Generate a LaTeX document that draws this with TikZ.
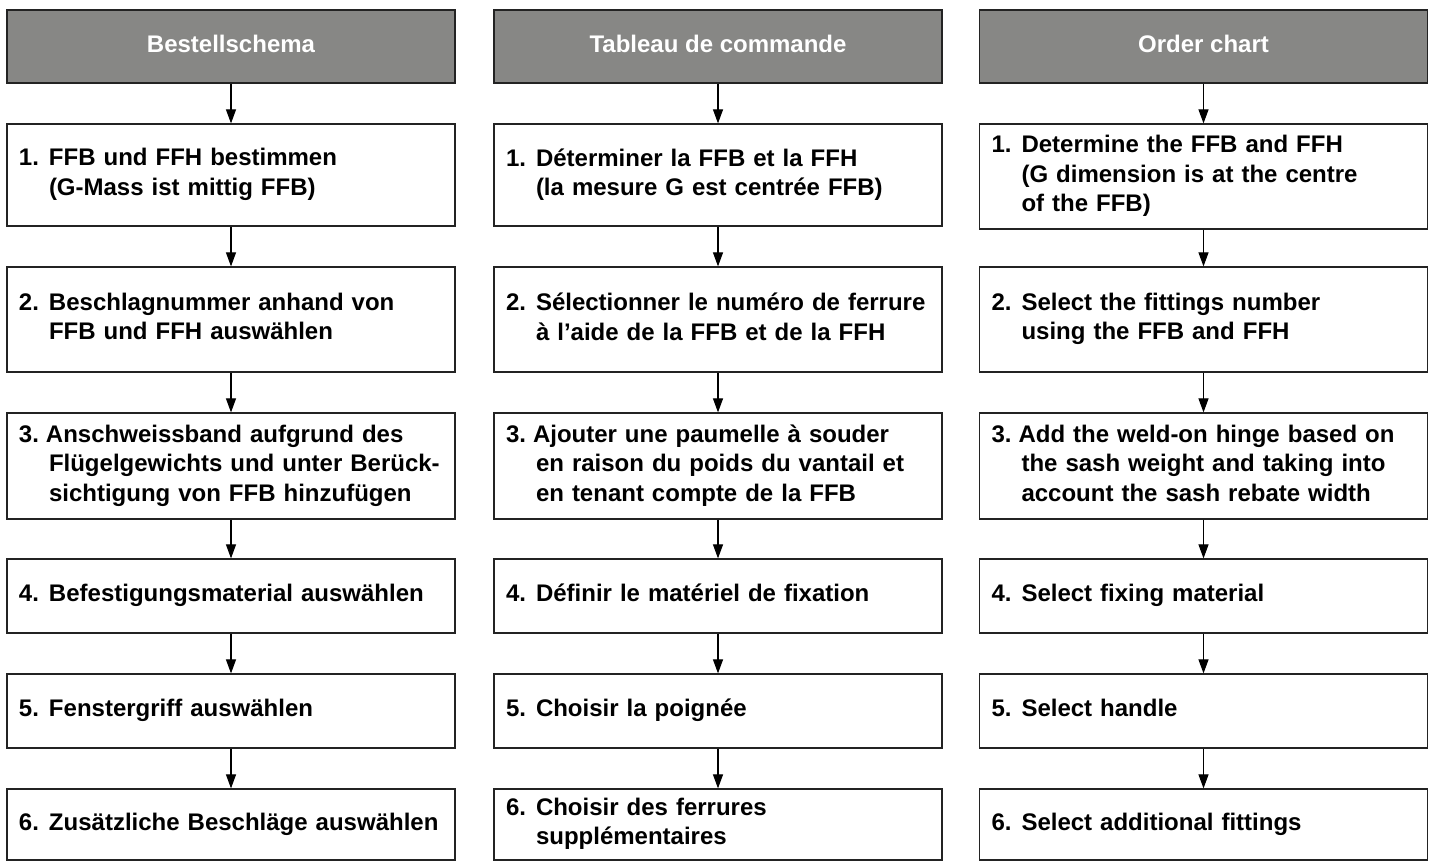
\documentclass[tikz,border=0pt]{standalone}
\usepackage{fontspec}
\setmainfont{Liberation Sans}
\usetikzlibrary{arrows.meta}
\definecolor{hdr}{RGB}{135,135,133}
\definecolor{edge}{RGB}{35,35,35}
\newcommand{\nm}[1]{\makebox[30pt][l]{#1}}
\newcommand{\nmt}[1]{\makebox[27pt][l]{#1}}
\newcommand{\ind}{\hspace*{30pt}}
\newcommand{\vstr}{\rule[-6pt]{0pt}{23.2pt}}
\begin{document}
\begin{tikzpicture}[x=1pt,y=-1pt,
  box/.style={draw=edge, line width=1.2pt, fill=white, inner xsep=12pt, inner ysep=0pt,
    text width=424pt, align=left, font=\bfseries\fontsize{24}{29.5}\selectfont,
    execute at begin node=\vstr, execute at end node=\vstr},
  hbox/.style={draw=edge, line width=1.2pt, fill=hdr, text=white, minimum width=448pt,
    minimum height=73pt, inner sep=0pt, font=\bfseries\fontsize{24}{29.5}\selectfont,
    execute at begin node=\vstr},
  arr/.style={line width=1.1pt, draw=black, -{Triangle[length=14pt,width=10pt]}}]
\useasboundingbox (0,0) rectangle (1435,861);
\fill[white] (0,0) rectangle (1435,861);

% column 1
\node[hbox] (h1) at (231,46.5) {Bestellschema};
\node[box, minimum height=102pt] (a1) at (231,175) {\nm{1.}FFB und FFH bestimmen\\\ind(G-Mass ist mittig FFB)};
\node[box, minimum height=105pt] (a2) at (231,319.5) {\nm{2.}Beschlagnummer anhand von\\\ind FFB und FFH auswählen};
\node[box, minimum height=106pt] (a3) at (231,466) {\nmt{3.}Anschweissband aufgrund des\\\ind Flügelgewichts und unter Berück-\\\ind sichtigung von FFB hinzufügen};
\node[box, minimum height=74pt] (a4) at (231,596) {\nm{4.}Befestigungsmaterial auswählen};
\node[box, minimum height=74pt] (a5) at (231,711) {\nm{5.}Fenstergriff auswählen};
\node[box, minimum height=71pt] (a6) at (231,824.5) {\nm{6.}Zusätzliche Beschläge auswählen};

% column 2
\node[hbox] (h2) at (718,46.5) {Tableau de commande};
\node[box, minimum height=102pt] (b1) at (718,175) {\nm{1.}Déterminer la FFB et la FFH\\\ind(la mesure G est centrée FFB)};
\node[box, minimum height=105pt] (b2) at (718,319.5) {\nm{2.}Sélectionner le numéro de ferrure\\\ind à l'aide de la FFB et de la FFH};
\node[box, minimum height=106pt] (b3) at (718,466) {\nmt{3.}Ajouter une paumelle à souder\\\ind en raison du poids du vantail et\\\ind en tenant compte de la FFB};
\node[box, minimum height=74pt] (b4) at (718,596) {\nm{4.}Définir le matériel de fixation};
\node[box, minimum height=74pt] (b5) at (718,711) {\nm{5.}Choisir la poignée};
\node[box, minimum height=71pt] (b6) at (718,824.5) {\nm{6.}Choisir des ferrures\\\ind supplémentaires};

% column 3
\node[hbox] (h3) at (1203.5,46.5) {Order chart};
\node[box, minimum height=105pt] (c1) at (1203.5,176.5) {\nm{1.}Determine the FFB and FFH\\\ind(G dimension is at the centre\\\ind of the FFB)};
\node[box, minimum height=105pt] (c2) at (1203.5,319.5) {\nm{2.}Select the fittings number\\\ind using the FFB and FFH};
\node[box, minimum height=106pt] (c3) at (1203.5,466) {\nmt{3.}Add the weld-on hinge based on\\\ind the sash weight and taking into\\\ind account the sash rebate width};
\node[box, minimum height=74pt] (c4) at (1203.5,596) {\nm{4.}Select fixing material};
\node[box, minimum height=74pt] (c5) at (1203.5,711) {\nm{5.}Select handle};
\node[box, minimum height=71pt] (c6) at (1203.5,824.5) {\nm{6.}Select additional fittings};

% arrows
\draw[arr] (h1) -- (a1);
\draw[arr] (h2) -- (b1);
\draw[arr] (h3) -- (c1);
\foreach \c in {a,b,c}{
  \draw[arr] (\c1) -- (\c2);
  \draw[arr] (\c2) -- (\c3);
  \draw[arr] (\c3) -- (\c4);
  \draw[arr] (\c4) -- (\c5);
  \draw[arr] (\c5) -- (\c6);
}
\end{tikzpicture}
\end{document}
